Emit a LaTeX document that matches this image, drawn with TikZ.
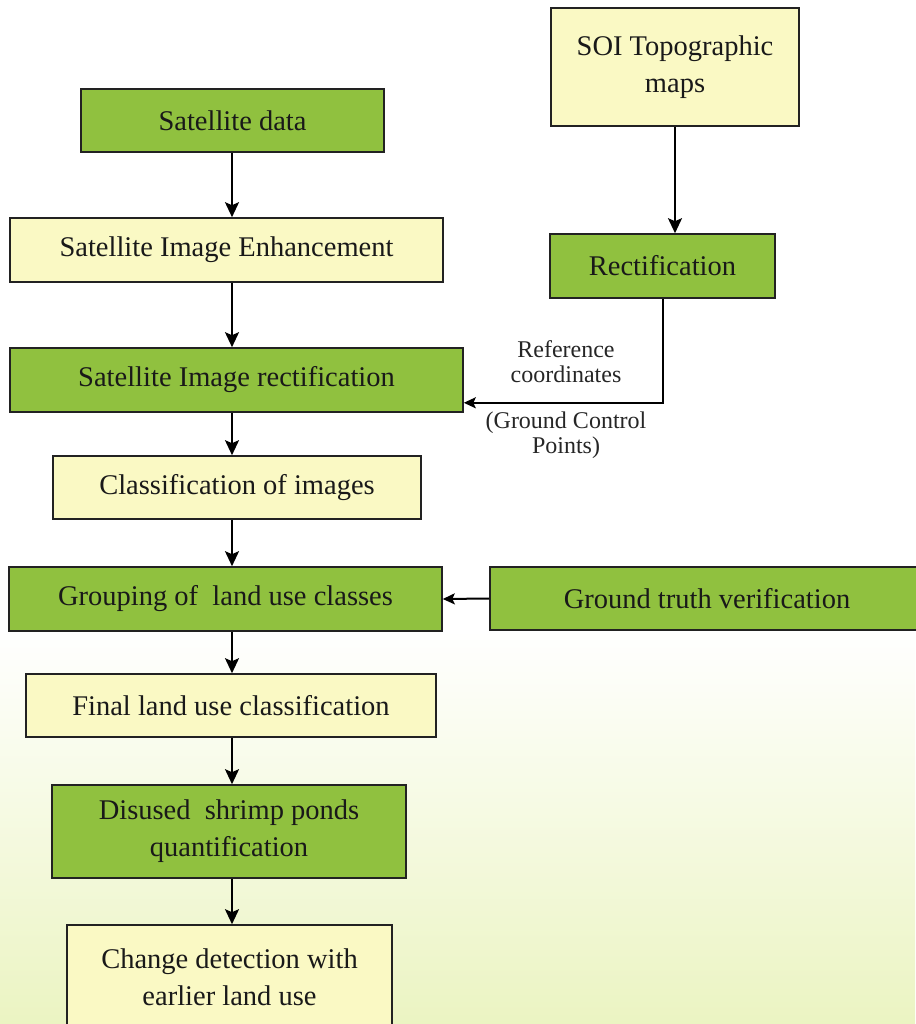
\documentclass[tikz,border=0pt]{standalone}
\usepackage{fontspec}
\setmainfont{Liberation Serif}
\usetikzlibrary{arrows.meta,calc}
\definecolor{boxgreen}{HTML}{90C13F}
\definecolor{boxyellow}{HTML}{FAF9C4}
\definecolor{bgtint}{HTML}{EBF4C2}
\definecolor{edge}{HTML}{222222}
\tikzset{
  basebox/.style={draw=edge, line width=1.6pt, rectangle, inner sep=0pt, align=center,
    font=\fontsize{28.5}{37}\selectfont, text=black!90},
  greenbox/.style={basebox, fill=boxgreen},
  yellowbox/.style={basebox, fill=boxyellow},
  labeltext/.style={align=center, inner sep=0pt, font=\fontsize{24}{25}\selectfont, text=black!85},
  arr/.style={draw=black, line width=2pt, -{Stealth[length=15pt,width=14pt,inset=3pt]}},
  arrsmall/.style={draw=black, line width=2pt, -{Stealth[length=12pt,width=11pt,inset=2.5pt]}}
}
\begin{document}
\begin{tikzpicture}[x=1pt,y=-1pt]
\useasboundingbox (0,0) rectangle (915,1024);
\fill[white] (0,0) rectangle (915,1024);
\shade[top color=white, bottom color=bgtint] (0,630) rectangle (915,1024);

\node[greenbox, minimum width=303pt, minimum height=63pt] (sat) at (232.5,120.5) {Satellite data};
\node[yellowbox, minimum width=248pt, minimum height=118pt] (soi) at (675,67) {SOI Topographic\\maps};
\node[yellowbox, minimum width=433pt, minimum height=64pt] (enh) at (226.5,250) {Satellite Image Enhancement};
\node[greenbox, minimum width=225pt, minimum height=64pt] (rect) at (662.5,266) {Rectification};
\node[greenbox, minimum width=453pt, minimum height=64pt] (sir) at (236.5,380) {Satellite Image rectification};
\node[yellowbox, minimum width=368pt, minimum height=63pt] (cls) at (237,487.5) {Classification of images};
\node[greenbox, minimum width=433pt, minimum height=64pt] (grp) at (225.5,599) {Grouping of~ land use classes};
\node[greenbox, minimum width=434pt, minimum height=63pt] (gtv) at (707,598.5) {Ground truth verification};
\node[yellowbox, minimum width=410pt, minimum height=63pt] (fin) at (231,705.5) {Final land use classification};
\node[greenbox, minimum width=354pt, minimum height=93pt] (dis) at (229,831.5) {Disused~ shrimp ponds\\quantification};
\node[yellowbox, minimum width=325pt, minimum height=104pt] (chg) at (229.5,977) {Change detection with\\earlier land use};

\node[labeltext] (refc) at (566,362) {Reference\\coordinates};
\node[labeltext] (gcp) at (566,435) {(Ground Control\\Points)};

\coordinate (ax) at (232,0);
\draw[arr] (sat.south -| ax) -- (enh.north -| ax);
\draw[arr] (enh.south -| ax) -- (sir.north -| ax);
\draw[arr] (sir.south -| ax) -- (cls.north -| ax);
\draw[arr] (cls.south -| ax) -- (grp.north -| ax);
\draw[arr] (grp.south -| ax) -- (fin.north -| ax);
\draw[arr] (fin.south -| ax) -- (dis.north -| ax);
\draw[arr] (dis.south -| ax) -- (chg.north -| ax);
\draw[arr] (soi.south) -- (rect.north -| soi.south);
\coordinate (refin) at ($(sir.south east)+(0,-10)$);
\draw[arrsmall] (rect.south) |- (refin);
\draw[arrsmall] (gtv.west) -- (grp.east);
\end{tikzpicture}
\end{document}
